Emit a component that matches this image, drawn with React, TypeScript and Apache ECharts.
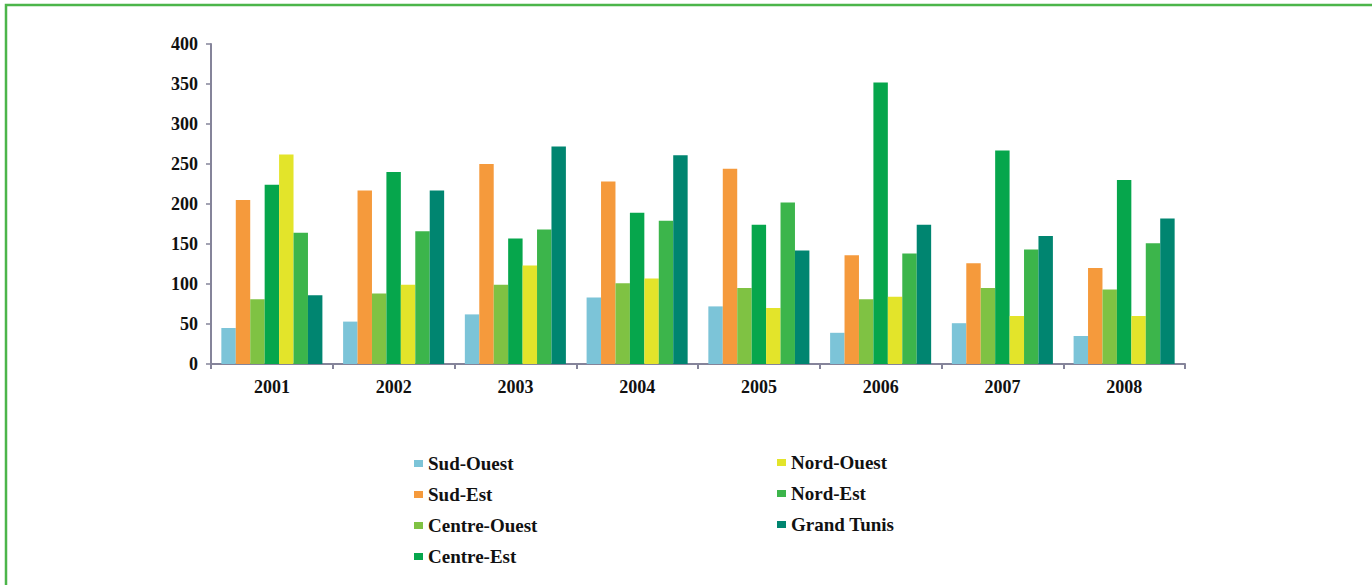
import React, { useEffect, useRef } from "react";
import * as echarts from "echarts";

const years = ["2001", "2002", "2003", "2004", "2005", "2006", "2007", "2008"];

const sudOuest = [45, 53, 62, 83, 72, 39, 51, 35];
const sudEst = [205, 217, 250, 228, 244, 136, 126, 120];
const centreOuest = [81, 88, 99, 101, 95, 81, 95, 93];
const centreEst = [224, 240, 157, 189, 174, 352, 267, 230];
const nordOuest = [262, 99, 123, 107, 70, 84, 60, 60];
const nordEst = [164, 166, 168, 179, 202, 138, 143, 151];
const grandTunis = [86, 217, 272, 261, 142, 174, 160, 182];

const seriesDefs = [
  { name: "Sud-Ouest", data: sudOuest, color: "#7cc4d8" },
  { name: "Sud-Est", data: sudEst, color: "#f59a3c" },
  { name: "Centre-Ouest", data: centreOuest, color: "#7fc243" },
  { name: "Centre-Est", data: centreEst, color: "#06a64c" },
  { name: "Nord-Ouest", data: nordOuest, color: "#e3e42a" },
  { name: "Nord-Est", data: nordEst, color: "#3cb54b" },
  { name: "Grand Tunis", data: grandTunis, color: "#008570" },
];

const FONT = "'Liberation Serif', 'DejaVu Serif', serif";

export default function App() {
  const ref = useRef<HTMLDivElement>(null);

  useEffect(() => {
    if (!ref.current) return;
    const chart = echarts.init(ref.current, null, { renderer: "svg" });
    const legendText = {
      fontFamily: FONT,
      fontWeight: "bold" as const,
      fontSize: 19,
      color: "#111",
      lineHeight: 19,
    };
    chart.setOption({
      animation: false,
      backgroundColor: "#ffffff",
      grid: { left: 211, right: 187, top: 44, bottom: 221, containLabel: false },
      graphic: [
        {
          type: "polyline",
          shape: { points: [[6, 600], [6, 5], [1380, 5]] },
          style: { stroke: "#4cb54a", lineWidth: 2.5, fill: "none" },
          silent: true,
        },
      ],
      legend: [
        {
          orient: "vertical",
          left: 409,
          top: 449,
          itemWidth: 9,
          itemHeight: 7,
          itemGap: 12,
          icon: "rect",
          data: ["Sud-Ouest", "Sud-Est", "Centre-Ouest", "Centre-Est"],
          textStyle: legendText,
        },
        {
          orient: "vertical",
          left: 772,
          top: 448,
          itemWidth: 9,
          itemHeight: 7,
          itemGap: 12,
          icon: "rect",
          data: ["Nord-Ouest", "Nord-Est", "Grand Tunis"],
          textStyle: legendText,
        },
      ],
      xAxis: {
        type: "category",
        data: years,
        axisLine: { lineStyle: { color: "#85849a", width: 2 } },
        axisTick: { show: true, length: 5, lineStyle: { color: "#85849a", width: 2 } },
        axisLabel: {
          fontFamily: FONT,
          fontWeight: "bold",
          fontSize: 18,
          color: "#111",
          margin: 14,
        },
      },
      yAxis: {
        type: "value",
        min: 0,
        max: 400,
        interval: 50,
        axisLine: { show: true, lineStyle: { color: "#85849a", width: 2 } },
        axisTick: { show: true, length: 5, lineStyle: { color: "#85849a", width: 1.5 } },
        splitLine: { show: false },
        axisLabel: {
          fontFamily: FONT,
          fontWeight: "bold",
          fontSize: 18,
          color: "#111",
          margin: 13,
        },
      },
      series: seriesDefs.map((s) => ({
        type: "bar",
        name: s.name,
        data: s.data,
        barGap: "0%",
        barCategoryGap: "17%",
        itemStyle: { color: s.color },
      })),
    });
    return () => chart.dispose();
  }, []);

  return (
    <div
      ref={ref}
      style={{ position: "fixed", left: 0, top: 0, width: 1372, height: 585 }}
    />
  );
}
